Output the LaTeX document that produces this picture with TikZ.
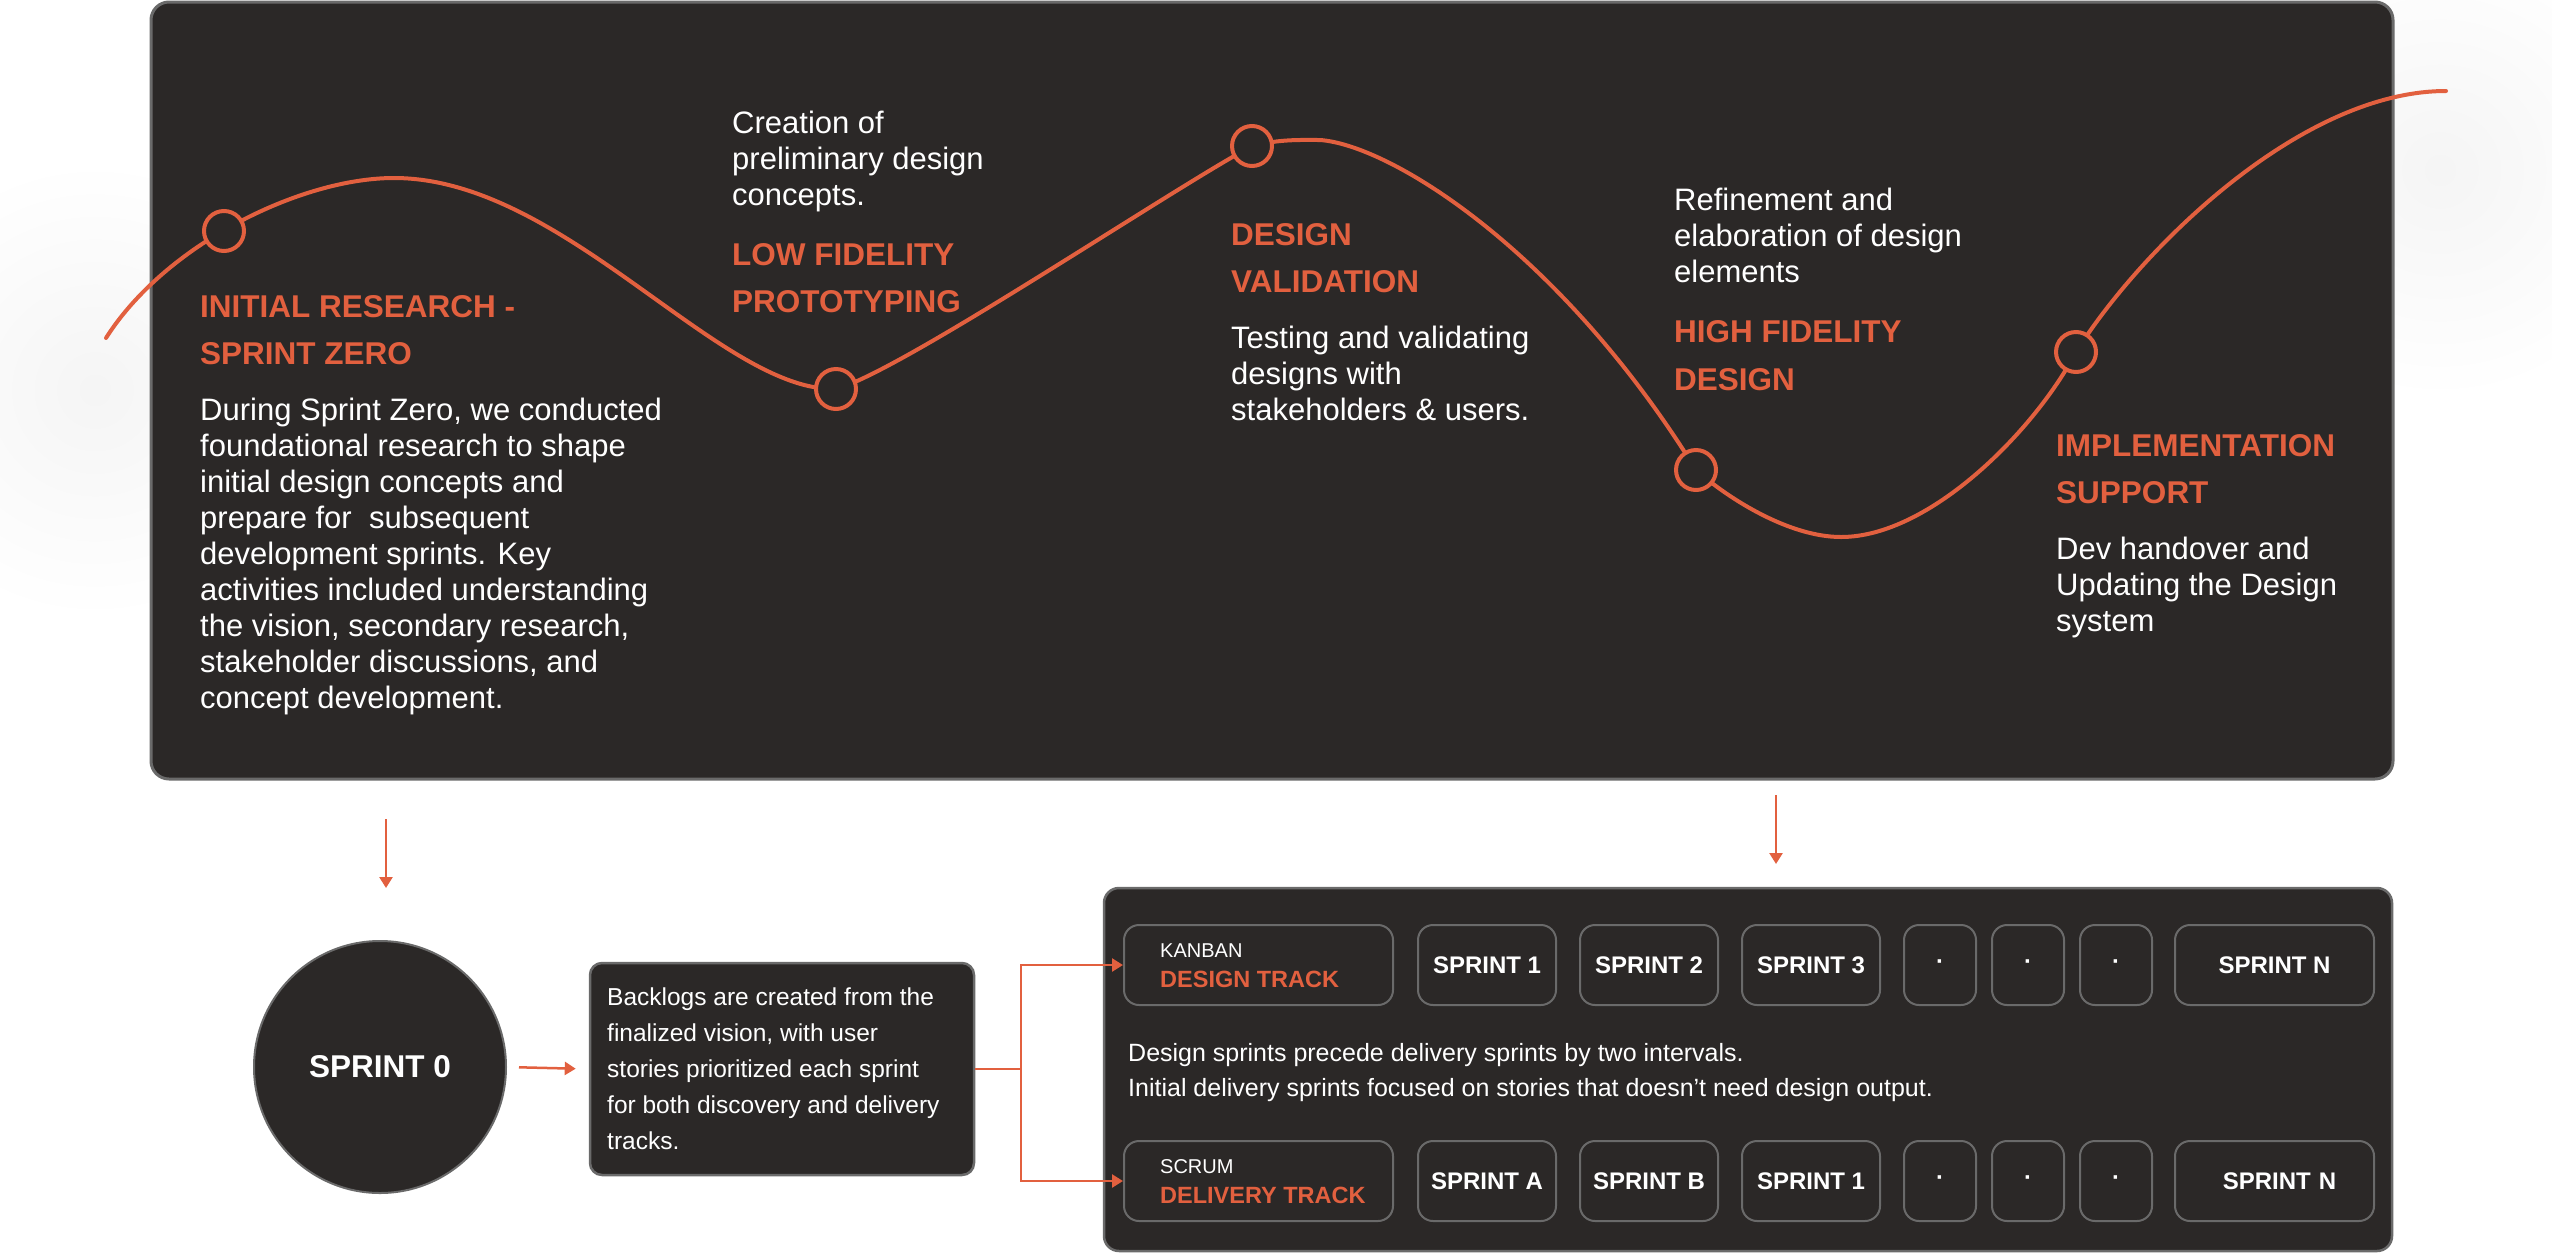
\documentclass[tikz,border=0pt]{standalone}
\usepackage{fontspec}
\setmainfont{Liberation Sans}
\usetikzlibrary{arrows.meta}
\definecolor{accent}{HTML}{E2603F}
\definecolor{panel}{HTML}{2B2827}
\definecolor{edge}{HTML}{6A6A6A}
\begin{document}
\begin{tikzpicture}[x=1pt,y=-1pt,
  heading/.style={anchor=base west, inner sep=0pt, align=left, text=accent, font=\fontsize{31.5}{47.5}\selectfont\bfseries},
  body/.style={anchor=base west, inner sep=0pt, align=left, text=white, font=\fontsize{31}{36}\selectfont},
  milestone/.style={circle, draw=accent, line width=4pt, fill=panel, minimum size=40pt, inner sep=0pt},
  wave/.style={draw=accent, line width=4pt, line cap=round},
  link/.style={draw=accent, line width=2.5pt, -{Triangle[width=13pt,length=11pt]}},
  plainlink/.style={draw=accent, line width=2.5pt},
  bigpanel/.style={fill=panel, draw=edge, line width=3pt, rounded corners=18pt},
  sprintbox/.style={draw=edge, line width=2pt, fill=panel, rounded corners=15pt, minimum height=80pt, inner sep=0pt, text=white, font=\fontsize{24}{30}\selectfont\bfseries},
  small/.style={anchor=base west, inner sep=0pt, text=white, font=\fontsize{20}{24}\selectfont},
  tracktitle/.style={anchor=base west, inner sep=0pt, text=accent, font=\fontsize{23.5}{30}\selectfont\bfseries},
  note/.style={anchor=base west, inner sep=0pt, align=left, text=white, font=\fontsize{25}{35}\selectfont},
]
\useasboundingbox (0,0) rectangle (2552,1254);
% soft glows
\shade[inner color=black!4, outer color=white] (95,390) circle (230);
\shade[inner color=black!4, outer color=white] (2440,170) circle (230);
% top panel
\draw[bigpanel] (151,2) rectangle (2393,779);
% wave
\coordinate (w0) at (106,338);
\coordinate (p1) at (224,231);
\coordinate (top1) at (394,178);
\coordinate (p2) at (836,389);
\coordinate (p3) at (1252,146);
\coordinate (top2) at (1320,140);
\coordinate (p4) at (1696,470);
\coordinate (low2) at (1841,537);
\coordinate (p5) at (2076,352);
\coordinate (w9) at (2446,91);
\draw[wave] (w0) .. controls (165,245) and (300,178) .. (top1)
  .. controls (564,178) and (720,392) .. (p2)
  .. controls (900,372) and (1170,190) .. (p3)
  .. controls (1280,139) and (1300,140) .. (top2)
  .. controls (1390,145) and (1560,250) .. (p4)
  .. controls (1730,500) and (1790,537) .. (low2)
  .. controls (1930,537) and (2035,430) .. (p5)
  .. controls (2140,250) and (2300,91) .. (w9);
\node[milestone] (m1) at (p1) {};
\node[milestone] (m2) at (p2) {};
\node[milestone] (m3) at (p3) {};
\node[milestone] (m4) at (p4) {};
\node[milestone] (m5) at (p5) {};
% texts (anchor = baseline of the last line)
\node[heading] (h1) at (200,364.5) {INITIAL RESEARCH -\\SPRINT ZERO};
\node[body] (b1) at (200,708) {During Sprint Zero, we conducted\\foundational research to shape\\initial design concepts and\\prepare for\ \ subsequent\\development sprints. Key\\activities included understanding\\the vision, secondary research,\\stakeholder discussions, and\\concept development.};
\node[body] (b2) at (732,205) {Creation of\\preliminary design\\concepts.};
\node[heading] (h2) at (732,312.5) {LOW FIDELITY\\PROTOTYPING};
\node[heading] (h3) at (1231,292.5) {DESIGN\\VALIDATION};
\node[body] (b3) at (1231,420.5) {Testing and validating\\designs with\\stakeholders \& users.};
\node[body] (b4) at (1674,282) {Refinement and\\elaboration of design\\elements};
\node[heading] (h4) at (1674,390) {HIGH FIDELITY\\DESIGN};
\node[heading] (h5) at (2056,503.5) {IMPLEMENTATION\\SUPPORT};
\node[body] (b5) at (2056,631.5) {Dev handover and\\Updating the Design\\system};
% arrows from top panel
\coordinate (a1s) at (386,819);
\coordinate (a1e) at (386,888);
\coordinate (a2s) at (1776,795);
\coordinate (a2e) at (1776,864);
\draw[link] (a1s) -- (a1e);
\draw[link] (a2s) -- (a2e);
% sprint 0
\node[circle, fill=panel, draw=edge, line width=2pt, minimum size=252pt, inner sep=0pt, text=white, font=\fontsize{31.5}{36}\selectfont\bfseries] (s0) at (380,1067) {SPRINT 0};
% backlog
\node[fill=panel, draw=edge, line width=2.5pt, rounded corners=12pt, minimum width=384pt, minimum height=212pt, inner sep=0pt] (backlog) at (782,1069) {};
\node[anchor=base west, inner sep=0pt, align=left, text=white, font=\fontsize{24.5}{36}\selectfont] (backlogtext) at (607,1149) {Backlogs are created from the\\finalized vision, with user\\stories prioritized each sprint\\for both discovery and delivery\\tracks.};
\draw[link, shorten <=12pt, shorten >=13pt] (s0.east) -- (backlog.west);
% bottom panel
\draw[bigpanel, rounded corners=15pt, line width=2.5pt] (1104,888) rectangle (2392,1251);
% design track row
\node[sprintbox, minimum width=269pt] (dtrack) at (1258.5,965) {};
\node[small] (kanban) at (1160,957) {KANBAN};
\node[tracktitle] (dtitle) at (1160,987) {DESIGN TRACK};
\node[sprintbox, minimum width=138pt] (d1) at (1487,965) {SPRINT 1};
\node[sprintbox, minimum width=138pt] (d2) at (1649,965) {SPRINT 2};
\node[sprintbox, minimum width=138pt] (d3) at (1811,965) {SPRINT 3};
\node[sprintbox, minimum width=72pt] (dd1) at (1940,965) {·};
\node[sprintbox, minimum width=72pt] (dd2) at (2028,965) {·};
\node[sprintbox, minimum width=72pt] (dd3) at (2116,965) {·};
\node[sprintbox, minimum width=199pt] (dn) at (2274.5,965) {SPRINT N};
% note
\node[note] (notetext) at (1128,1096) {Design sprints precede delivery sprints by two intervals.\\Initial delivery sprints focused on stories that doesn't need design output.};
% delivery track row
\node[sprintbox, minimum width=269pt] (vtrack) at (1258.5,1181) {};
\node[small] (scrum) at (1160,1173) {SCRUM};
\node[tracktitle] (vtitle) at (1160,1203) {DELIVERY TRACK};
\node[sprintbox, minimum width=138pt] (v1) at (1487,1181) {SPRINT A};
\node[sprintbox, minimum width=138pt] (v2) at (1649,1181) {SPRINT B};
\node[sprintbox, minimum width=138pt] (v3) at (1811,1181) {SPRINT 1};
\node[sprintbox, minimum width=72pt] (vd1) at (1940,1181) {·};
\node[sprintbox, minimum width=72pt] (vd2) at (2028,1181) {·};
\node[sprintbox, minimum width=72pt] (vd3) at (2116,1181) {·};
\node[sprintbox, minimum width=199pt, text width=199pt, align=center] (vn) at (2274.5,1181) {\hspace*{10pt}SPRINT N};
% fork
\coordinate (fork) at (1021,1069);
\draw[plainlink] (backlog.east) -- (fork);
\draw[link] (fork) |- (dtrack.west);
\draw[link] (fork) |- (vtrack.west);
\end{tikzpicture}
\end{document}
